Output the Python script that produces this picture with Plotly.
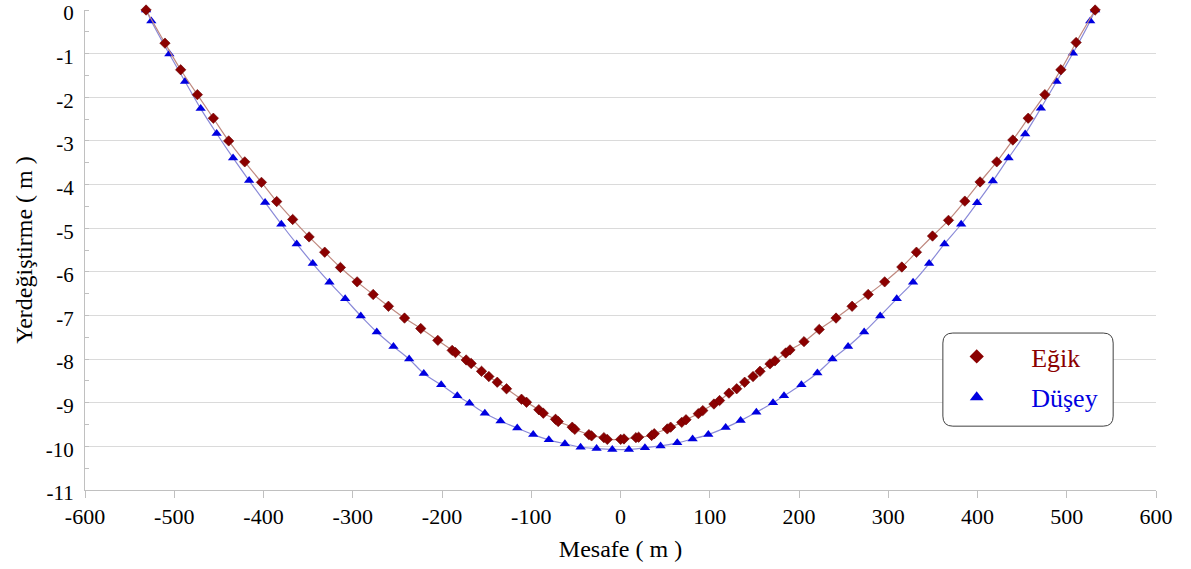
import plotly.graph_objects as go

# Eğik (inclined) series
egik_x = [-531.6, -510.4, -492.8, -474.1, -456.2, -439.0, -421.0, -402.3, -385.2, -367.3,
          -348.9, -331.4, -313.8, -295.1, -277.1, -260.0, -242.0, -223.8, -204.7, -188.6,
          -184.9, -172.9, -167.3, -155.7, -147.5, -138.1, -127.7, -110.9, -105.3, -91.5,
          -86.5, -72.8, -69.8, -54.1, -51.2, -35.4, -32.4, -18.6, -14.8, 0.2,
          3.9, 17.3, 20.3, 34.9, 37.8, 52.4, 56.2, 68.6, 73.4, 87.2,
          92.2, 104.7, 111.0, 121.5, 130.2, 139.1, 148.5, 156.3, 167.5, 173.1,
          185.1, 189.9, 205.6, 222.7, 241.5, 259.5, 277.5, 296.0, 315.2, 331.6,
          349.6, 367.5, 385.8, 402.9, 421.6, 439.6, 456.8, 475.5, 493.4, 510.5, 531.8]
egik_y = [0, -0.76, -1.37, -1.94, -2.48, -3.00, -3.48, -3.95, -4.39, -4.80,
          -5.20, -5.55, -5.90, -6.23, -6.52, -6.79, -7.06, -7.30, -7.57, -7.80,
          -7.85, -8.02, -8.10, -8.28, -8.40, -8.53, -8.68, -8.92, -8.99, -9.16,
          -9.24, -9.38, -9.43, -9.56, -9.61, -9.73, -9.76, -9.80, -9.84, -9.84,
          -9.83, -9.80, -9.79, -9.75, -9.71, -9.60, -9.56, -9.45, -9.39, -9.25,
          -9.18, -9.03, -8.95, -8.78, -8.68, -8.53, -8.40, -8.28, -8.11, -8.04,
          -7.86, -7.79, -7.60, -7.32, -7.06, -6.79, -6.52, -6.23, -5.89, -5.55,
          -5.18, -4.82, -4.38, -3.94, -3.48, -2.98, -2.48, -1.94, -1.37, -0.745, 0]

# Düşey (vertical) series
dusey_x = [-531.6, -525.7, -505.5, -487.9, -470.4, -452.5, -434.1, -416.1, -398.2, -380.0,
           -362.8, -344.8, -326.1, -308.5, -291.0, -273.1, -254.4, -236.8, -220.4, -200.9,
           -182.9, -169.2, -152.0, -134.4, -115.7, -97.8, -80.3, -62.3, -44.7, -26.8,
           -9.2, 9.4, 27.4, 44.9, 63.6, 80.8, 98.4, 117.8, 134.6, 152.2,
           170.9, 183.2, 202.7, 220.6, 237.5, 255.0, 273.0, 291.0, 309.5, 327.8,
           345.8, 363.0, 381.7, 399.6, 417.2, 434.8, 453.4, 471.0, 488.6, 506.9, 526.3, 531.8]
dusey_y = [0, -0.25, -1.01, -1.64, -2.26, -2.83, -3.39, -3.91, -4.41, -4.91,
           -5.36, -5.81, -6.24, -6.62, -7.01, -7.38, -7.71, -8.00, -8.33, -8.59,
           -8.84, -9.01, -9.24, -9.42, -9.58, -9.73, -9.85, -9.94, -10.02, -10.05,
           -10.07, -10.07, -10.03, -9.99, -9.92, -9.83, -9.73, -9.57, -9.41, -9.22,
           -9.00, -8.84, -8.59, -8.32, -8.00, -7.71, -7.38, -7.01, -6.62, -6.24,
           -5.81, -5.36, -4.91, -4.42, -3.92, -3.39, -2.84, -2.25, -1.64, -0.99, -0.25, 0]

x_ticks = [-600, -500, -400, -300, -200, -100, 0, 100, 200, 300, 400, 500, 600]
y_ticks = [0, -1, -2, -3, -4, -5, -6, -7, -8, -9, -10, -11]

RED = "#8b0000"
BLUE = "#0000e0"
FONT = "Liberation Serif"

fig = go.Figure()

fig.add_trace(go.Scatter(
    x=dusey_x, y=dusey_y, mode="lines+markers", showlegend=False, cliponaxis=False,
    line=dict(color="#8a8ad8", width=1.2, shape="spline"),
    marker=dict(symbol="triangle-up", size=9, color=BLUE, line=dict(width=0)),
))
fig.add_trace(go.Scatter(
    x=egik_x, y=egik_y, mode="lines+markers", showlegend=False, cliponaxis=False,
    line=dict(color="#c08a80", width=1.2, shape="spline"),
    marker=dict(symbol="diamond", size=8, color=RED, line=dict(width=0.6, color="#6a0000")),
))
# legend entries
fig.add_trace(go.Scatter(
    x=[None], y=[None], mode="markers", name="<span style='color:%s'>Eğik</span>" % RED,
    legendgroup="a",
    marker=dict(symbol="diamond", size=11, color=RED),
))
fig.add_trace(go.Scatter(
    x=[None], y=[None], mode="markers", name="<span style='color:%s'>Düşey</span>" % BLUE,
    legendgroup="b",
    marker=dict(symbol="triangle-up", size=12, color=BLUE),
))

# rounded legend box
x0, x1, y0, y1 = 0.801, 0.960, 0.133, 0.327
rx, ry = 0.0093, 0.0209
path = (f"M {x0+rx} {y1} L {x1-rx} {y1} Q {x1} {y1} {x1} {y1-ry} "
        f"L {x1} {y0+ry} Q {x1} {y0} {x1-rx} {y0} "
        f"L {x0+rx} {y0} Q {x0} {y0} {x0} {y0+ry} "
        f"L {x0} {y1-ry} Q {x0} {y1} {x0+rx} {y1} Z")
fig.add_shape(type="path", path=path, xref="paper", yref="paper",
              fillcolor="white", line=dict(color="#404040", width=1), layer="above")

fig.update_layout(
    width=1191, height=569,
    margin=dict(l=85, r=35, t=10, b=79, autoexpand=False),
    paper_bgcolor="white", plot_bgcolor="white",
    font=dict(family=FONT, color="black"),
    showlegend=True,
    legend=dict(x=0.7817, y=0.327, xanchor="left", yanchor="top",
                bgcolor="rgba(0,0,0,0)", borderwidth=0,
                font=dict(family=FONT, size=26),
                itemwidth=99, tracegroupgap=4, traceorder="grouped"),
    xaxis=dict(range=[-600, 600], tickvals=x_ticks, ticktext=[str(v) for v in x_ticks],
               automargin=False,
               showgrid=False, zeroline=False, showline=True, linecolor="#c0c0c0", linewidth=1,
               ticks="outside", ticklen=7, tickcolor="#c0c0c0",
               tickfont=dict(family=FONT, size=22),
               title=dict(text="Mesafe ( m )", font=dict(family=FONT, size=24), standoff=11)),
    yaxis=dict(range=[-11, 0], tickvals=y_ticks, ticktext=[str(v) for v in y_ticks],
               automargin=False,
               showgrid=True, gridcolor="#dadada", gridwidth=1,
               zeroline=False, showline=True, linecolor="#c0c0c0", linewidth=1,
               ticks="", tickfont=dict(family=FONT, size=21), ticklabeloverflow="allow",
               ticklabelstandoff=6, ticklabelshift=3,
               minor=dict(dtick=0.5, tick0=0, ticks="inside", ticklen=4, tickcolor="#c0c0c0", showgrid=False),
               title=dict(text="Yerdeğiştirme ( m )", font=dict(family=FONT, size=24), standoff=6)),
)

fig.write_html("out.html", config={"displayModeBar": False},
               post_script="document.body.style.margin='0';document.body.style.overflow='hidden';")
